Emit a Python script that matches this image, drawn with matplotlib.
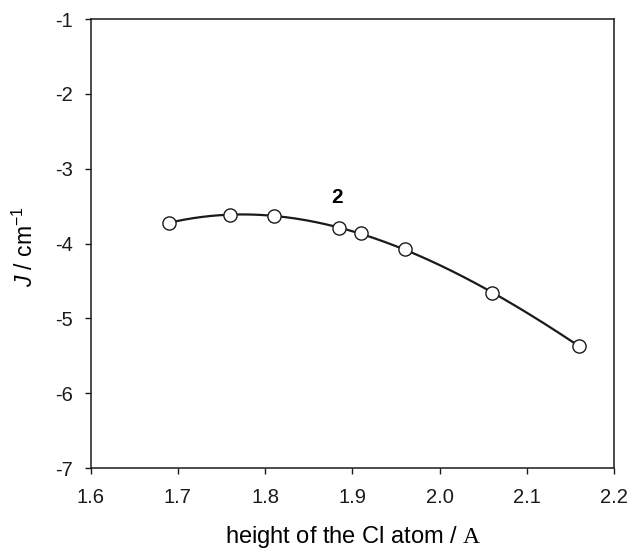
import numpy as np
import matplotlib
matplotlib.use("Agg")
import matplotlib.pyplot as plt

plt.rcParams['font.family'] = ['Liberation Sans', 'DejaVu Sans']
plt.rcParams['mathtext.fontset'] = 'custom'
plt.rcParams['mathtext.rm'] = 'Liberation Sans'
plt.rcParams['mathtext.it'] = 'Liberation Sans:italic'
plt.rcParams['mathtext.cal'] = 'Liberation Serif'
plt.rcParams['axes.unicode_minus'] = False

height = [1.69, 1.76, 1.81, 1.885, 1.91, 1.96, 2.06, 2.16]
J = [-3.72, -3.62, -3.635, -3.79, -3.86, -4.08, -4.66, -5.37]
xticks = [1.6, 1.7, 1.8, 1.9, 2.0, 2.1, 2.2]
xticklabels = ["1.6", "1.7", "1.8", "1.9", "2.0", "2.1", "2.2"]
yticks = [-7, -6, -5, -4, -3, -2, -1]
series_label = "2"

fig = plt.figure(figsize=(6.3, 5.5), dpi=100)
L, R, T, B = 90.7, 614, 19, 468
ax = fig.add_axes([L/630, 1-B/550, (R-L)/630, (B-T)/550])

coef = np.polyfit(height, J, 3)
xs = np.linspace(min(height), max(height), 300)
ax.plot(xs, np.polyval(coef, xs), color='#1a1a1a', lw=1.6, zorder=2)
ax.plot(height, J, 'o', ms=9.5, mfc='white', mec='#1a1a1a', mew=1.0, zorder=3)

ax.text(1.883, -3.385, series_label, fontsize=15, fontweight='bold', ha='center', va='center')

ax.set_xlim(1.6, 2.2)
ax.set_ylim(-7, -1)
ax.set_xticks(xticks)
ax.set_xticklabels(xticklabels)
ax.set_yticks(yticks)
ax.tick_params(direction='out', length=4, width=1, labelsize=14.5, colors='#1a1a1a')
ax.tick_params(axis='x', pad=10.5)
ax.tick_params(axis='y', pad=9)
for s in ax.spines.values():
    s.set_color('#1a1a1a')
    s.set_linewidth(1.1)

ax.set_xlabel(r"height of the Cl atom / $\mathcal{A}$", fontsize=17)
ax.xaxis.label.set_va('baseline')
ax.xaxis.set_label_coords(0.501, (B-543.5)/(B-T))
ax.set_ylabel(r"$\mathit{J}$ / cm$^{-1}$", fontsize=16.5)
ax.yaxis.label.set_va('center')
ax.yaxis.set_label_coords((25-L)/(R-L), 0.494)

fig.savefig("out.png", dpi=100)
